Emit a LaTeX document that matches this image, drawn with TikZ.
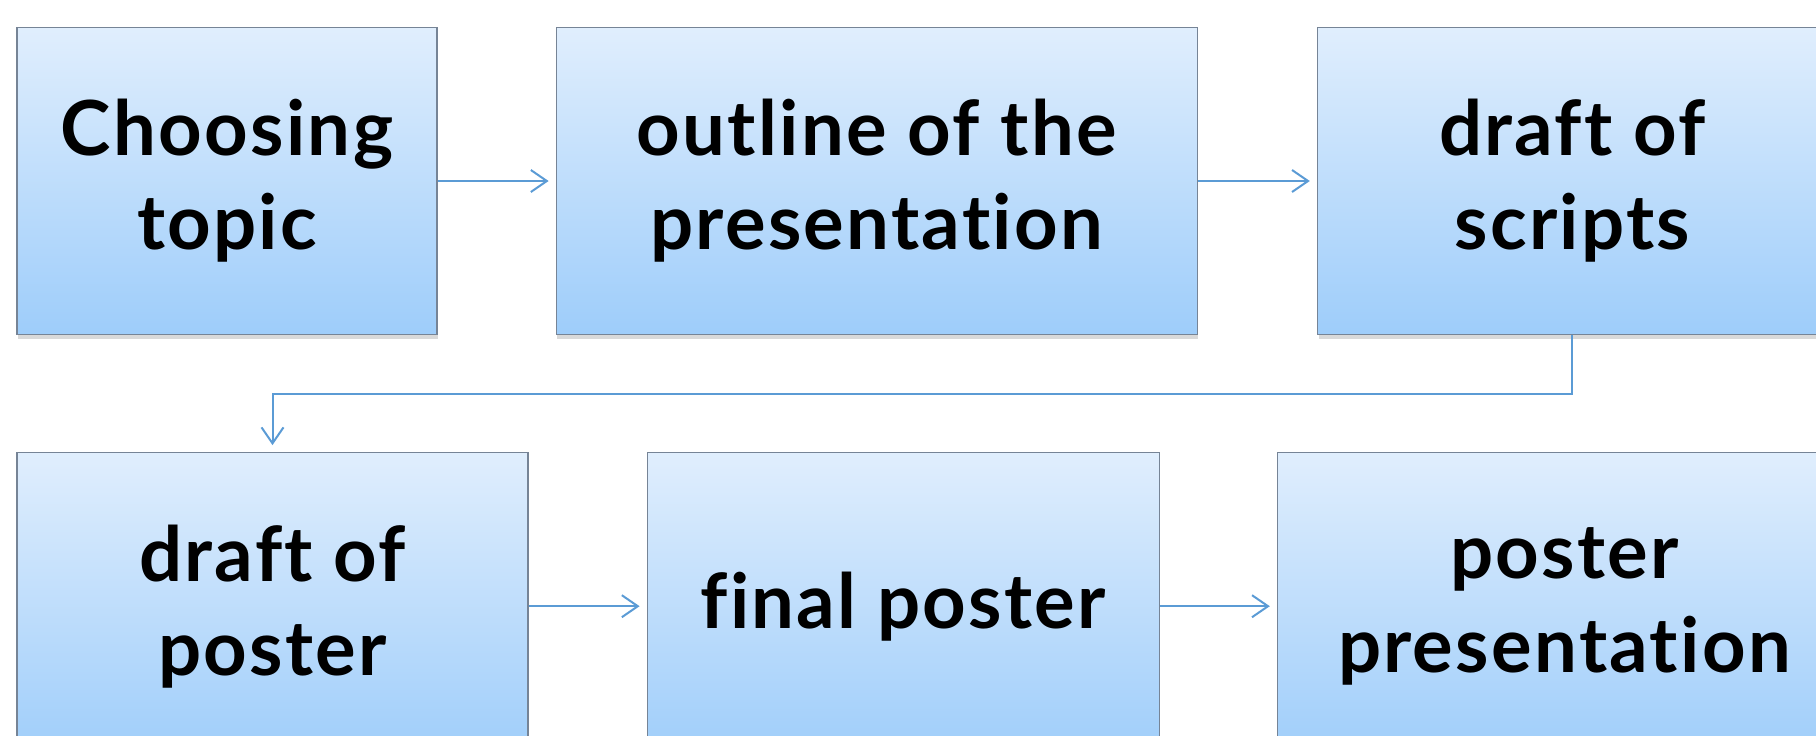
\documentclass[tikz,border=0pt]{standalone}
\usepackage{fontspec}
\setmainfont{Lato}[Ligatures={NoCommon,NoContextual}, LetterSpace=3]
\usepackage{xcolor}
\usepackage{tikz}
\usetikzlibrary{arrows.meta, positioning, shadows}

\definecolor{boxtop}{RGB}{224,238,253}
\definecolor{boxbot}{RGB}{158,205,250}
\definecolor{boxline}{RGB}{118,132,150}
\definecolor{flow}{RGB}{91,155,213}

\begin{document}
\begin{tikzpicture}[
    block/.style={draw=boxline, line width=0.6pt, top color=boxtop, bottom color=boxbot,
                  drop shadow={shadow xshift=0.6pt, shadow yshift=-2pt, opacity=0.3},
                  minimum height=153.5pt, inner sep=0pt, align=center,
                  font=\fontsize{38}{47}\selectfont\bfseries},
    arr/.style={-{Straight Barb[length=8pt, width=11pt]}, line width=1pt, draw=flow,
                shorten >=3.5pt},
]
    \clip (0,0) rectangle (908pt,-367.5pt);
    % first row
    \node[block, minimum width=210pt] (b1) at (113.5pt,-90.5pt) {Choosing\\topic};
    \node[block, minimum width=320.5pt, right=59pt of b1] (b2) {outline of the\\presentation};
    \node[block, minimum width=255pt, right=59.5pt of b2] (b3) {draft of\\scripts};
    % second row
    \node[block, minimum width=255.5pt, below=58.5pt of b1.south west, anchor=north west] (b4) {draft of\\poster};
    \node[block, minimum width=256pt, right=59pt of b4] (b5) {final poster};
    \node[block, minimum width=287pt, right=58.5pt of b5] (b6) {poster\\presentation};
    \draw[arr] (b1) -- (b2);
    \draw[arr] (b2) -- (b3);
    \draw[arr] (b3.south) -- ++(0,-29.25pt) -| (b4.north);
    \draw[arr] (b4) -- (b5);
    \draw[arr] (b5) -- (b6);
\end{tikzpicture}
\end{document}
